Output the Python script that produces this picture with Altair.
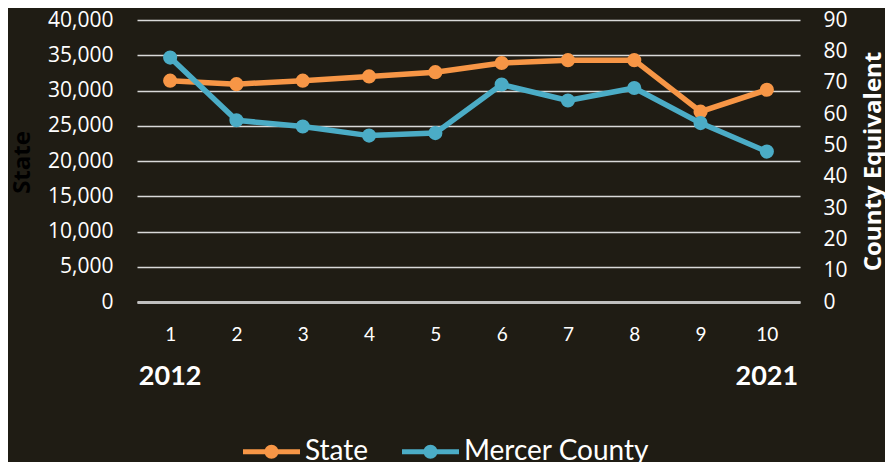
import altair as alt
import pandas as pd

periods = [1, 2, 3, 4, 5, 6, 7, 8, 9, 10]
state_values = [31400, 30900, 31400, 32000, 32600, 33900, 34300, 34300, 27000, 30100]
county_values = [78.0, 58.0, 56.0, 53.1, 53.9, 69.4, 64.3, 68.3, 57.1, 48.0]
series_names = ["State", "Mercer County"]
series_colors = ["#f79646", "#4bacc6"]
year_periods = [1, 10]
year_labels = ["2012", "2021"]
state_ticks = list(range(0, 40001, 5000))
county_ticks = list(range(0, 91, 10))

state_df = pd.DataFrame({"period": periods, "value": state_values, "series": "State"})
county_df = pd.DataFrame({"period": periods, "value": county_values, "series": "Mercer County"})
years_df = pd.DataFrame({"period": year_periods, "label": year_labels})

BG = "#1f1c14"
W, H = 663, 282

x_enc = alt.X(
    "period:O",
    scale=alt.Scale(domain=periods),
    axis=alt.Axis(
        title=None, labelAngle=0, labelFont="Lato", labelFontSize=19,
        labelColor="#ffffff", labelPadding=23, ticks=False, domain=True,
        domainColor="#bfbfbf", domainWidth=3, grid=False, zindex=1,
    ),
)

legend_path = ("M-1,-0.088H1V0.088H-1Z "
               "M-0.245,0A0.245,0.245 0 1,1 0.245,0A0.245,0.245 0 1,1 -0.245,0Z")

color_enc = alt.Color(
    "series:N",
    scale=alt.Scale(domain=series_names, range=series_colors),
    legend=alt.Legend(
        title=None, orient="none", direction="horizontal",
        legendX=106, legendY=403,
        symbolType=legend_path, symbolSize=3249, symbolStrokeWidth=0,
        labelFont="Lato", labelFontSize=28, labelColor="#ffffff",
        labelOffset=5, columnPadding=33, labelLimit=400,
    ),
)

state_layer = alt.Chart(state_df).mark_line(
    strokeWidth=5.5, strokeJoin="round",
    point=alt.OverlayMarkDef(size=200, filled=True, opacity=1),
).encode(
    x=x_enc,
    y=alt.Y(
        "value:Q",
        scale=alt.Scale(domain=[0, 40000], nice=False, zero=True),
        axis=alt.Axis(
            title="State", values=state_ticks, format=",.0f",
            labelFont="Open Sans", labelFontSize=21, labelColor="#ffffff",
            labelPadding=24, ticks=False, domain=False,
            grid=True, gridColor="#d9d9d9", gridWidth=1.5,
            titleFont="Open Sans", titleFontSize=24, titleFontWeight="bold",
            titleColor="#000000", titleAngle=270, titleX=-115, titleY=142,
            titleAlign="center", titleBaseline="middle",
        ),
    ),
    color=color_enc,
)

county_layer = alt.Chart(county_df).mark_line(
    strokeWidth=5.5, strokeJoin="round",
    point=alt.OverlayMarkDef(size=200, filled=True, opacity=1),
).encode(
    x=x_enc,
    y=alt.Y(
        "value:Q",
        scale=alt.Scale(domain=[0, 90], nice=False, zero=True),
        axis=alt.Axis(
            title="County Equivalent", values=county_ticks, orient="right",
            labelFont="Open Sans", labelFontSize=21, labelColor="#ffffff",
            labelPadding=23, ticks=False, domain=False, grid=False,
            titleFont="Open Sans", titleFontSize=24, titleFontWeight="bold",
            titleColor="#ffffff", titleAngle=270, titleX=73, titleY=141,
            titleAlign="center", titleBaseline="middle",
        ),
    ),
    color=color_enc,
)

years_layer = alt.Chart(years_df).mark_text(
    font="Lato", fontSize=27, fontWeight="bold", color="#ffffff", baseline="middle",
).encode(
    x=x_enc,
    y=alt.value(357),
    text="label:N",
)

chart = (
    alt.layer(state_layer, county_layer, years_layer)
    .resolve_scale(y="independent")
    .properties(
        width=W, height=H, background=BG,
        autosize=alt.AutoSizeParams(type="none"),
        padding={"left": 129, "top": 12, "right": 85, "bottom": 160},
    )
    .configure_view(stroke=None)
)

chart.save("out.html", embed_options={"renderer": "svg", "actions": False})
